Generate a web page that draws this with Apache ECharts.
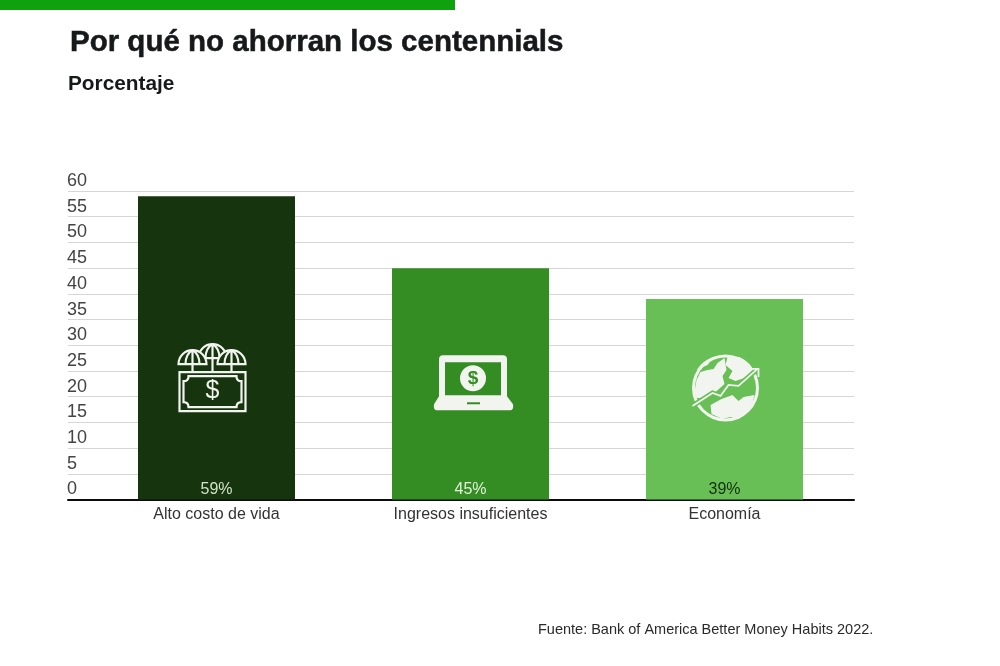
<!DOCTYPE html>
<html><head><meta charset="utf-8">
<style>html,body{margin:0;padding:0;background:#fff}#c{width:1000px;height:666px}</style>
<script src="https://cdn.jsdelivr.net/npm/echarts@6/dist/echarts.min.js"></script>
</head><body><div id="c"></div>
<script>
const categories = ['Alto costo de vida', 'Ingresos insuficientes', 'Economía'];
const values = [59, 45, 39];
const barColors = ['#16340e', '#348d23', '#68bf56'];
const labelColors = ['#cfe3c6', '#e2f2dc', '#14300c'];
const iconHeights = [23.6, 22.8, 21.7];
const iconOffsets = [-4, 2.5, 1];
const yMin = 0, yMax = 60, yStep = 5;
const FONT = '"Liberation Sans"';
const W = '#f2f4ef';

function iconChildren(i, x, y, fill) {
  const at = (d, style) => ({ type: 'path', x, y, shape: { pathData: d, layout: 'none' }, style });
  const line = { fill: 'none', stroke: W, lineWidth: 2.2 };
  const dome = { fill, stroke: W, lineWidth: 2.2 };
  if (i === 0) {
    return [
      at('M-33 -6H33V33H-33Z', line),
      at('M-24 -2H24Q24 3 29 3V24Q24 24 24 29H-24Q-24 24 -29 24V3Q-24 3 -24 -2Z', line),
      at('M0 -20V-6', line),
      at('M-14 -20A14 14 0 0 1 14 -20Z', dome),
      at('M0 -20V-34 M-7 -20Q-7 -30 0 -34 M7 -20Q7 -30 0 -34', line),
      at('M-20 -14V-6 M19 -14V-6', line),
      at('M-34 -14A14 14 0 0 1 -6 -14Z', dome),
      at('M-20 -14V-28 M-27 -14Q-27 -24 -20 -28 M-13 -14Q-13 -24 -20 -28', line),
      at('M5 -14A14 14 0 0 1 33 -14Z', dome),
      at('M19 -14V-28 M12 -14Q12 -24 19 -28 M26 -14Q26 -24 19 -28', line),
      { type: 'text', x: x, y: y + 13, style: { text: '$', fill: W, font: '400 25px "Liberation Sans"', align: 'center', verticalAlign: 'middle' } }
    ];
  }
  if (i === 1) {
    return [
      at('M-30 -27H30Q34 -27 34 -23V14L40 22Q41 28 37 28H-36Q-40 28 -39 22L-34 14V-23Q-34 -27 -30 -27Z', { fill: W }),
      { type: 'rect', x: x - 28, y: y - 20, shape: { width: 56, height: 33 }, style: { fill } },
      { type: 'circle', x, y: y - 4, shape: { r: 13 }, style: { fill: W } },
      { type: 'text', x, y: y - 4, style: { text: '$', fill, font: '700 19px "Liberation Sans"', align: 'center', verticalAlign: 'middle' } },
      { type: 'rect', x: x - 6, y: y + 20, shape: { width: 13, height: 2 }, style: { fill } }
    ];
  }
  return [
    { type: 'circle', x, y, shape: { r: 33.5 }, style: { fill: W } },
    { type: 'circle', x, y, shape: { r: 30.5 }, style: { fill } },
    at('M-31 4L-29 -8L-25 -16L-18 -18L-12 -19L-8 -25L-1 -30L1 -18L-3 -12L-1 -4L-11 5L-20 10L-29 10Z', { fill: W }),
    at('M-12 -31Q-22 -28 -29 -18L-18 -23Z', { fill: W }),
    at('M2 -31L14 -31Q24 -26 28 -18L19 -10L10 -7L3 -10L7 -17L0 -23Z', { fill: W }),
    at('M-15 17L-4 11L7 7L13 13L18 9L29 7Q27 22 13 31Q8 30 5 29L-3 31L-14 26Z', { fill: W }),
    at('M-33 18L-13 5L-5 8L3 -3L13 -2L31 -18', { fill: 'none', stroke: fill, lineWidth: 5 }),
    at('M-33 18L-13 5L-5 8L3 -3L13 -2L32 -19 M25 -19H33V-11', { fill: 'none', stroke: W, lineWidth: 1.8 })
  ];
}

const chart = echarts.init(document.getElementById('c'), null, { renderer: 'canvas' });
chart.setOption({
  animation: false,
  backgroundColor: '#fff',
  textStyle: { fontFamily: FONT },
  title: [
    { text: 'Por qué no ahorran los centennials', left: 70, top: 28, padding: 0,
      textStyle: { fontFamily: FONT, fontSize: 29.5, fontWeight: 700, color: '#16181a', textBorderColor: '#16181a', textBorderWidth: 0.5 } },
    { text: 'Porcentaje', left: 68, top: 74, padding: 0,
      textStyle: { fontFamily: FONT, fontSize: 20.8, fontWeight: 700, color: '#16181a' } },
    { text: 'Fuente: Bank of America Better Money Habits 2022.', left: 538, top: 622, padding: 0,
      textStyle: { fontFamily: FONT, fontSize: 14.5, fontWeight: 400, color: '#2a2a2a' } }
  ],
  graphic: [{ type: 'rect', left: 0, top: 0, shape: { width: 455, height: 10 }, style: { fill: '#10a10e' } }],
  grid: [
    { left: 68, top: 191, width: 786, height: 308.5 },
    { left: 89.5, top: 191, width: 762, height: 308.5 }
  ],
  xAxis: [
    { gridIndex: 0, type: 'value', min: 0, max: 1, axisLabel: { show: false }, axisTick: { show: false },
      splitLine: { show: false }, axisLine: { show: true, lineStyle: { color: '#0c0c0c', width: 2 } } },
    { gridIndex: 1, type: 'category', data: categories, axisLine: { show: false }, axisTick: { show: false },
      axisLabel: { color: '#333', fontFamily: FONT, fontSize: 16, margin: 7 } }
  ],
  yAxis: [
    { gridIndex: 0, type: 'value', min: yMin, max: yMax, interval: yStep, axisLine: { show: false }, axisTick: { show: false },
      axisLabel: { inside: true, align: 'left', verticalAlign: 'bottom', margin: -1, color: '#444', fontFamily: FONT, fontSize: 18, padding: [0, 0, 1, 0] },
      splitLine: { show: true, lineStyle: { color: '#d6d6d6', width: 1 } } },
    { gridIndex: 1, type: 'value', min: yMin, max: yMax, interval: yStep, show: false, splitLine: { show: false } }
  ],
  series: [
    { type: 'bar', xAxisIndex: 1, yAxisIndex: 1, barWidth: 157,
      data: values.map((v, i) => ({
        value: v, itemStyle: { color: barColors[i] },
        label: { color: labelColors[i] }
      })),
      label: { show: true, position: 'insideBottom', distance: 2, formatter: '{c}%', fontFamily: FONT, fontSize: 16 } },
    { type: 'custom', xAxisIndex: 1, yAxisIndex: 1, z: 5,
      data: iconHeights.map((h, i) => [i, h]),
      renderItem: (params, api) => {
        const p = api.coord([api.value(0), api.value(1)]);
        const i = params.dataIndex;
        return { type: 'group', children: iconChildren(i, p[0] + iconOffsets[i], p[1], barColors[i]) };
      } }
  ]
});
</script></body></html>
